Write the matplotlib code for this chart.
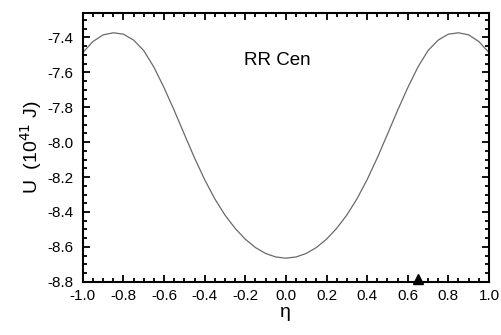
import numpy as np
import matplotlib
matplotlib.use('Agg')
import matplotlib.pyplot as plt
import matplotlib.ticker as ticker

plt.rcParams['font.family'] = ['Liberation Sans', 'DejaVu Sans']
plt.rcParams['axes.unicode_minus'] = False

# ── data (symmetric curve, eta >= 0 half) ─────────────────────────────────────
eta_half = [0.00, 0.05, 0.10, 0.15, 0.20, 0.25, 0.30, 0.35, 0.40, 0.45,
            0.50, 0.55, 0.60, 0.65, 0.70, 0.75, 0.80, 0.85, 0.90, 0.95, 1.00]
u_half = [-8.665, -8.658, -8.638, -8.604, -8.556, -8.494, -8.418, -8.325,
          -8.215, -8.090, -7.955, -7.818, -7.688, -7.570, -7.475, -7.415,
          -7.381, -7.373, -7.385, -7.423, -7.486]

eta = [-e for e in eta_half[:0:-1]] + eta_half
u = u_half[:0:-1] + u_half

# position marker on the axis
marker_eta = [0.65]
marker_u = [-8.784]

# ── plot ──────────────────────────────────────────────────────────────────────
fig = plt.figure(figsize=(5.02, 3.35), dpi=100)
ax = fig.add_axes([0.165, 0.159, 0.809, 0.802])

ax.plot(eta, u, color='#6a6a6a', lw=0.9)
ax.plot(marker_eta, marker_u, marker='^', color='black', ms=7, ls='none',
        clip_on=False)

ax.text(-0.04, -7.531, 'RR Cen', ha='center', va='center', fontsize=13.5)

ax.set_xlim(-1.0, 1.0)
ax.set_ylim(-8.8, -7.26)
ax.xaxis.set_major_locator(ticker.MultipleLocator(0.2))
ax.xaxis.set_minor_locator(ticker.MultipleLocator(0.05))
ax.yaxis.set_major_locator(ticker.MultipleLocator(0.2))
ax.yaxis.set_minor_locator(ticker.MultipleLocator(0.05))
ax.xaxis.set_major_formatter(ticker.FormatStrFormatter('%.1f'))
ax.yaxis.set_major_formatter(ticker.FormatStrFormatter('%.1f'))

ax.tick_params(which='both', direction='in', top=True, right=True,
               labelsize=11, width=1.3)
ax.tick_params(which='major', length=5)
ax.tick_params(which='minor', length=3)
ax.tick_params(axis='x', which='major', pad=5)
ax.tick_params(axis='y', which='major', pad=7)
for s in ax.spines.values():
    s.set_linewidth(1.5)

ax.set_xlabel('η', fontsize=14, labelpad=1)
ax.set_ylabel(r'U  (10$^{41}$ J)', fontsize=14, labelpad=2)

fig.savefig('out.png', dpi=100)
